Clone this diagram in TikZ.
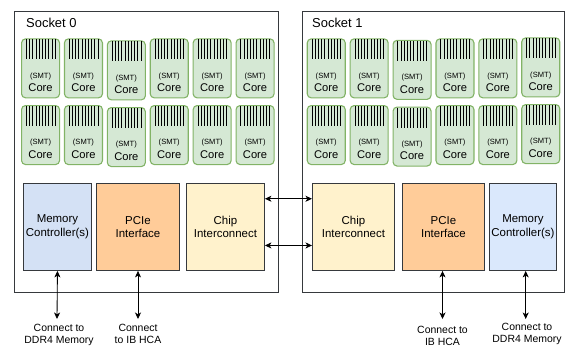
\documentclass[tikz,border=0pt]{standalone}
\usepackage{fontspec}
\setmainfont{Liberation Sans}
\usetikzlibrary{arrows.meta,calc}

\definecolor{corefill}{HTML}{D5E8D4}
\definecolor{coreline}{HTML}{82B366}
\definecolor{memfillA}{HTML}{D4E1F5}
\definecolor{memfillB}{HTML}{DAE8FC}
\definecolor{pciefill}{HTML}{FFCC99}
\definecolor{chipfill}{HTML}{FFF2CC}
\definecolor{edge}{HTML}{36393D}

\tikzset{
  socketbox/.style={draw=edge, line width=0.9bp, anchor=north west, inner sep=0pt},
  sockettitle/.style={anchor=west, inner sep=0pt, font=\fontsize{13}{15}\selectfont},
  corebox/.style={draw=coreline, fill=corefill, line width=1.1bp, rounded corners=4bp,
    anchor=north west, minimum width=38bp, minimum height=59bp, inner sep=0pt},
  stripe/.style={line width=1.4bp, black},
  smttext/.style={inner sep=0pt, font=\fontsize{7.6}{8}\selectfont},
  coretext/.style={inner sep=0pt, font=\fontsize{11.2}{12}\selectfont},
  unitbox/.style={draw=edge, line width=0.9bp, anchor=north west, inner sep=0pt,
    minimum height=87bp, align=center, font=\fontsize{11.5}{13.5}\selectfont},
  note/.style={inner sep=0pt, anchor=north, align=center, font=\fontsize{10.5}{13}\selectfont},
  biarrow/.style={line width=0.85bp, black,
    {Stealth[length=6.5bp,width=6bp,inset=1.8bp]}-{Stealth[length=6.5bp,width=6bp,inset=1.8bp]}}
}

\begin{document}
\begin{tikzpicture}[x=1bp, y=-1bp]
\useasboundingbox (0,0) rectangle (571,349);

% sockets
\node[socketbox, minimum width=264bp, minimum height=281bp] (s0) at (14,11) {};
\node[socketbox, minimum width=262bp, minimum height=281bp] (s1) at (302,11) {};
\node[sockettitle] (t0) at (26,23) {Socket 0};
\node[sockettitle] (t1) at (312,23) {Socket 1};

% cores: two rows of six per socket, with hatched thread lanes on top
\foreach \s/\xs in {0/21, 1/306.7}{
  \foreach \r/\ys in {1/38.3, 2/105}{
    \foreach \c in {1,...,6}{
      \pgfmathsetmacro{\jit}{(\s==0 && \c==3) ? 2 : ((\s==1 && \c==3) ? 1.5 : ((\s==1 && \c==6) ? -1 : 0))}
      \pgfmathsetmacro{\cx}{\xs + (\c-1)*42.9}
      \pgfmathsetmacro{\cy}{\ys + \jit}
      \node[corebox] (core-\s-\r-\c) at (\cx,\cy) {};
      \foreach \k in {0,...,9}{
        \pgfmathsetmacro{\sx}{round(\cx + 5 + \k*3.2) + 0.5}
        \draw[stripe] (\sx,\cy+1) -- (\sx,\cy+21);
      }
      \node[smttext] (smt-\s-\r-\c) at ($(core-\s-\r-\c.north)+(0,38)$) {(SMT)};
      \node[coretext] (ct-\s-\r-\c) at ($(core-\s-\r-\c.north)+(0,49.5)$) {Core};
    }
  }
}

% socket 0 units
\node[unitbox, fill=memfillA, minimum width=68bp] (mem0) at (23,183) {Memory\\Controller(s)};
\node[unitbox, fill=pciefill, minimum width=83bp] (pcie0) at (96,183) {PCIe\\Interface};
\node[unitbox, fill=chipfill, minimum width=78bp] (chip0) at (186,183) {Chip\\Interconnect};

% socket 1 units
\node[unitbox, fill=chipfill, minimum width=82bp] (chip1) at (312,183) {Chip\\Interconnect};
\node[unitbox, fill=pciefill, minimum width=82bp] (pcie1) at (402,183) {PCIe\\Interface};
\node[unitbox, fill=memfillB, minimum width=67bp] (mem1) at (489,183) {Memory\\Controller(s)};

% inter-socket links
\draw[biarrow] ([yshift=28.2bp]chip0.east) -- ([yshift=28.2bp]chip1.west);
\draw[biarrow] ([yshift=-18.5bp]chip0.east) -- ([yshift=-18.5bp]chip1.west);

% external connections
\node[note] (n-mem0) at (59,323.5) {Connect to\\DDR4 Memory};
\node[note] (n-pcie0) at (138,323.5) {Connect\\to IB HCA};
\node[note] (n-pcie1) at (442.5,325.5) {Connect to\\IB HCA};
\node[note] (n-mem1) at (527,322.5) {Connect to\\DDR4 Memory};

\coordinate (e-mem0) at (57,319);
\coordinate (e-pcie0) at (138,319);
\coordinate (e-pcie1) at (442.5,319);
\coordinate (e-mem1) at (525.7,319);

\draw[biarrow] (mem0.south) -- (e-mem0);
\draw[biarrow] (pcie0.south -| e-pcie0) -- (e-pcie0);
\draw[biarrow] (pcie1.south -| e-pcie1) -- (e-pcie1);
\draw[biarrow] (mem1.south -| e-mem1) -- (e-mem1);
\end{tikzpicture}
\end{document}
